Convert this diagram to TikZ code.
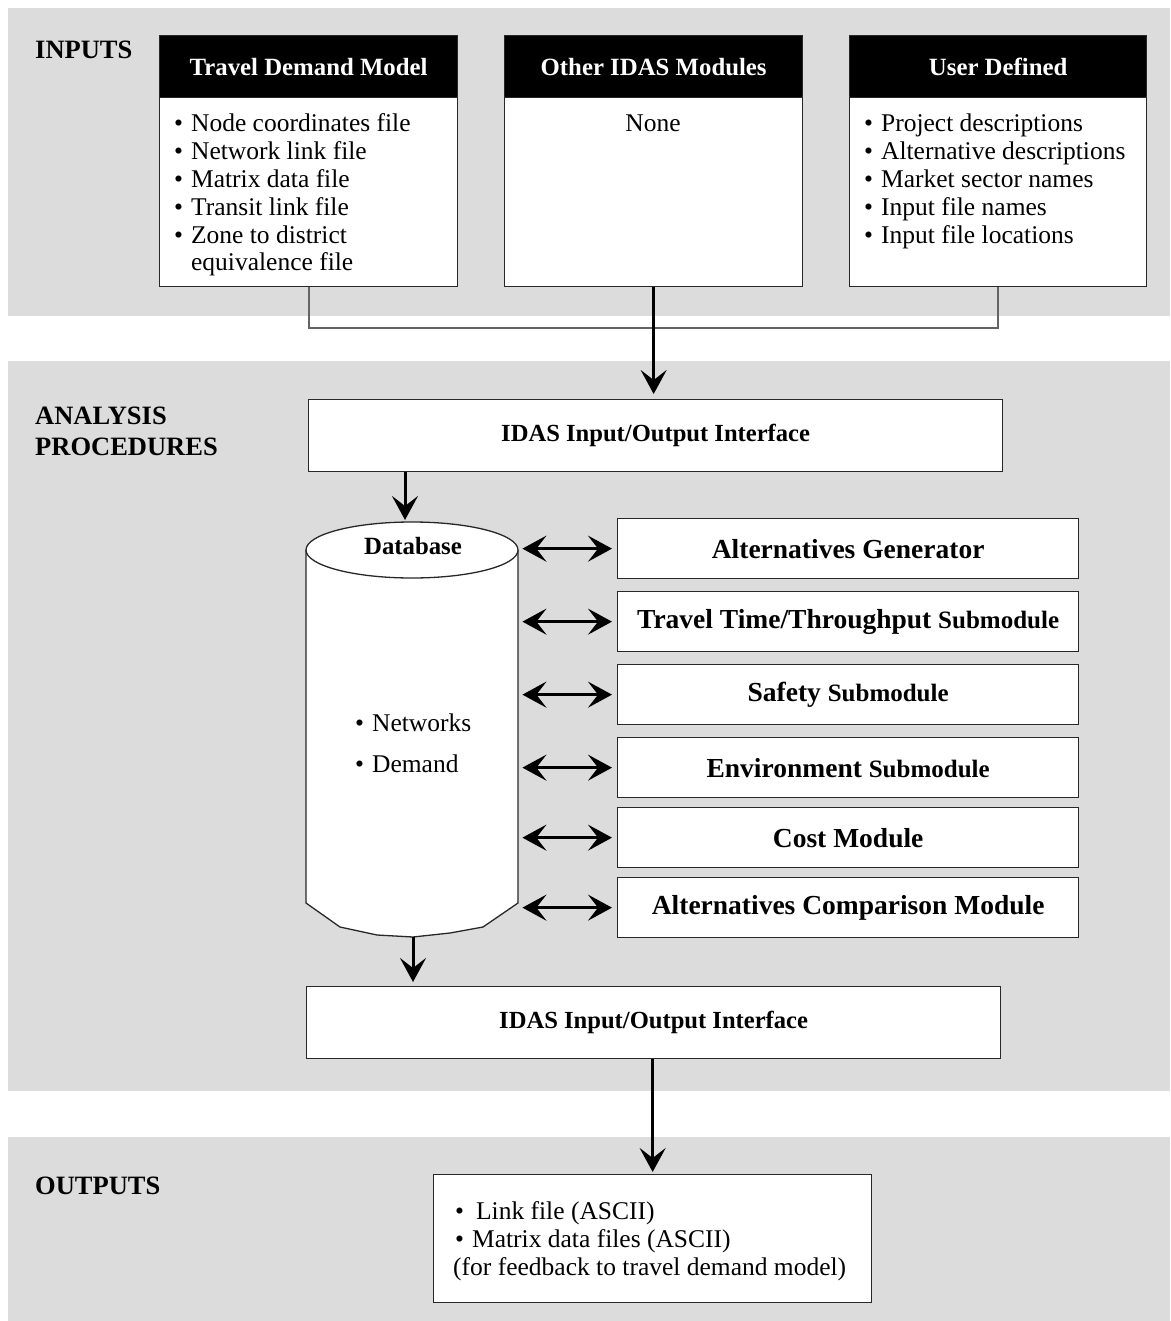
\documentclass[tikz,border=0pt]{standalone}
\usepackage{fontspec}
\setmainfont{Liberation Serif}
\usetikzlibrary{arrows.meta,calc}
\definecolor{bandgray}{RGB}{220,220,220}
\definecolor{edge}{RGB}{40,40,40}
\definecolor{conn}{RGB}{100,100,100}
\newcommand\bodyf{\fontsize{25.5}{27.8}\selectfont}
\newcommand\headf{\bfseries\fontsize{24.8}{28}\selectfont}
\newcommand\labf{\bfseries\fontsize{26.5}{31}\selectfont}
\newcommand\bigbf{\bfseries\fontsize{27.5}{30}\selectfont}
\newcommand\smbf{\bfseries\fontsize{25}{28}\selectfont}
\newcommand\iof{\bfseries\fontsize{24.6}{28}\selectfont}
\newcommand\outf{\fontsize{25.5}{28}\selectfont}
\begin{document}
\begin{tikzpicture}[x=1pt,y=-1pt,
  box/.style={draw=edge, fill=white, line width=1.3pt, inner sep=0pt, anchor=north west},
  arr/.style={line width=3pt, -{Stealth[length=24pt,width=26pt,inset=10pt]}},
  dbl/.style={line width=3pt, {Stealth[length=24pt,width=26pt,inset=10pt]}-{Stealth[length=24pt,width=26pt,inset=10pt]}},
  thin/.style={draw=conn, line width=1.4pt},
  lbl/.style={font=\labf, anchor=base west, inner sep=0pt},
  txt/.style={anchor=base west, inner sep=0pt, font=\bodyf},
]
\useasboundingbox (0,0) rectangle (1170,1321);
\fill[white] (0,0) rectangle (1170,1321);
% bands
\fill[bandgray] (8,8) rectangle (1170,316);
\fill[bandgray] (8,361) rectangle (1170,1091);
\fill[bandgray] (8,1137) rectangle (1170,1321);

% section labels
\node[lbl] (linputs) at (35,59) {INPUTS};
\node[lbl] (lanal) at (35,424) {ANALYSIS};
\node[lbl] (lproc) at (35,455) {PROCEDURES};
\node[lbl] (loutputs) at (35,1194) {OUTPUTS};

% input boxes
\node[box, minimum width=298pt, minimum height=251pt] (tdm) at (159,35) {};
\node[box, fill=black, text=white, font=\headf, minimum width=298pt, minimum height=62pt] (tdmh) at (159,35) {Travel Demand Model};
\node[box, minimum width=298pt, minimum height=251pt] (oth) at (504,35) {};
\node[box, fill=black, text=white, font=\headf, minimum width=298pt, minimum height=62pt] (othh) at (504,35) {Other IDAS Modules};
\node[box, minimum width=297pt, minimum height=251pt] (usr) at (849,35) {};
\node[box, fill=black, text=white, font=\headf, minimum width=297pt, minimum height=62pt] (usrh) at (849,35) {User Defined};

\node[txt] (tdml) at (174,132) {\begin{tabular}[t]{@{}l@{\hspace{8pt}}l@{}}
\textbullet & Node coordinates file\\
\textbullet & Network link file\\
\textbullet & Matrix data file\\
\textbullet & Transit link file\\
\textbullet & Zone to district\\
 & equivalence file
\end{tabular}};
\node[txt, anchor=base] (none) at (653,132) {None};
\node[txt] (usrl) at (864,132) {\begin{tabular}[t]{@{}l@{\hspace{8pt}}l@{}}
\textbullet & Project descriptions\\
\textbullet & Alternative descriptions\\
\textbullet & Market sector names\\
\textbullet & Input file names\\
\textbullet & Input file locations
\end{tabular}};

% interface 1
\node[box, minimum width=694pt, minimum height=72pt, font=\iof] (io1) at (308,399) {IDAS Input/Output Interface};

% connectors from inputs
\coordinate (jl) at (309,328);
\coordinate (jr) at (998,328);
\draw[thin] (tdm.south -| jl) -- (jl) -- (jr) -- (usr.south -| jr);
\draw[arr, shorten >=5pt] (oth.south) -- (io1.north -| oth.south);

% database cylinder
\fill[white] (306,550) -- (306,903) -- (340,927) -- (377,935) -- (413,937) -- (450,933) -- (483,927) -- (518,903) -- (518,550) -- cycle;
\draw[edge, line width=1.3pt, line join=round] (306,550) -- (306,903) -- (340,927) -- (377,935) -- (413,937) -- (450,933) -- (483,927) -- (518,903) -- (518,550);
\draw[edge, line width=1.3pt, fill=white] (412,550) ellipse [x radius=106, y radius=28];
\node[inner sep=0pt, minimum width=212pt, minimum height=415pt, anchor=north west] (db) at (306,522) {};
\node[font=\bfseries\fontsize{24.8}{28}\selectfont, inner sep=0pt, anchor=base] (dbname) at (413,554) {Database};
\node[txt] (dbn) at (355,731) {\textbullet\hspace{8pt}Networks};
\node[txt] (dbd) at (355,772) {\textbullet\hspace{8pt}Demand};
\coordinate (dbtop) at (405,520);
\coordinate (dbbot) at (413,937);
\draw[arr] (io1.south -| dbtop) -- (dbtop);

% modules
\node[box, minimum width=461pt, minimum height=60pt] (ag) at (617,518) {\bigbf Alternatives Generator};
\node[box, minimum width=461pt, minimum height=60pt] (tt) at (617,591) {\bigbf Travel Time/Throughput {\smbf Submodule}};
\node[box, minimum width=461pt, minimum height=60pt] (sf) at (617,664) {\bigbf Safety {\smbf Submodule}};
\node[box, minimum width=461pt, minimum height=60pt] (en) at (617,737) {\bigbf Environment {\smbf Submodule}};
\node[box, minimum width=461pt, minimum height=60pt] (cm) at (617,807) {\bigbf Cost Module};
\node[box, minimum width=461pt, minimum height=60pt] (ac) at (617,877) {\bigbf Alternatives Comparison Module};
\foreach \m in {ag,tt,sf,en,cm,ac}{
  \draw[dbl, shorten <=4pt, shorten >=5pt] (db.east |- \m.west) -- (\m.west);
}

% interface 2
\node[box, minimum width=694pt, minimum height=72pt, font=\iof] (io2) at (306,986) {IDAS Input/Output Interface};
\draw[arr, shorten >=4pt] (dbbot) -- (io2.north -| dbbot);

% outputs
\node[box, minimum width=438pt, minimum height=128pt] (out) at (433,1174) {};
\draw[arr, shorten >=2pt] (io2.south -| out.north) -- (out.north);
\node[anchor=base west, inner sep=0pt, font=\outf] (outl) at (453,1219) {\begin{tabular}[t]{@{}l@{}}
\hspace{2pt}\textbullet\hspace{12pt}Link file (ASCII)\\
\hspace{2pt}\textbullet\hspace{8pt}Matrix data files (ASCII)\\
(for feedback to travel demand model)
\end{tabular}};
\end{tikzpicture}
\end{document}
